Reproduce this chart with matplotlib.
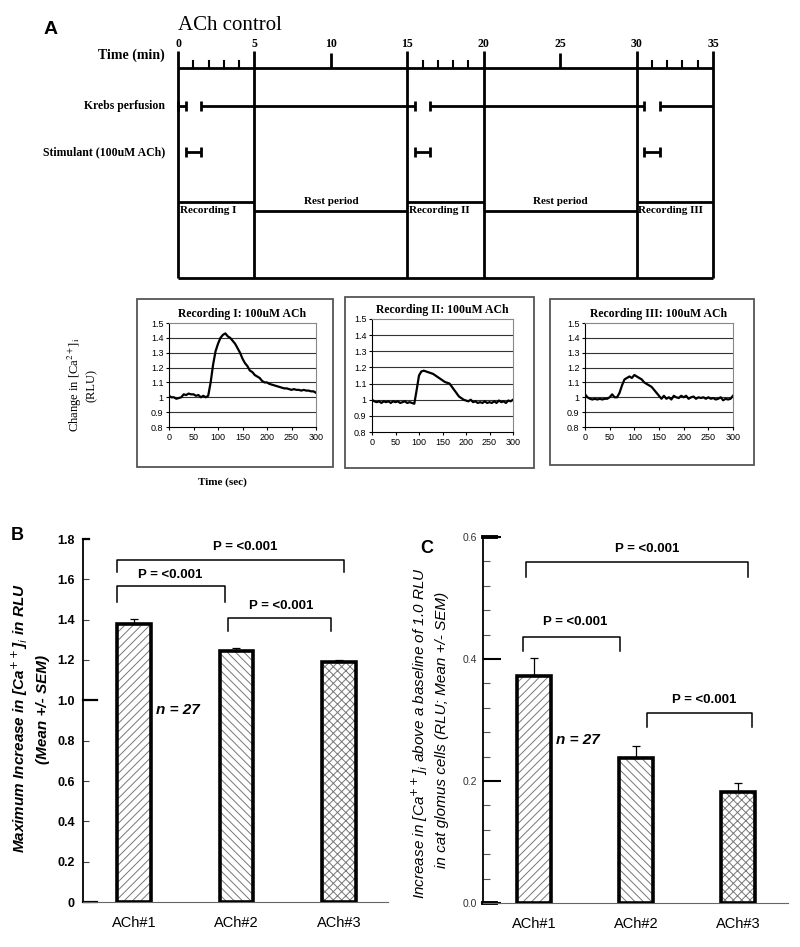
import matplotlib
matplotlib.use("Agg")
import matplotlib.pyplot as plt
import matplotlib.patches as patches

plt.rcParams['hatch.linewidth'] = 0.7
SERIF = 'Liberation Serif'
SANS = 'Liberation Sans'

# ---------------- data ----------------
time_major = [0, 5, 10, 15, 20, 25, 30, 35]
time_minor = [1, 2, 3, 4, 16, 17, 18, 19, 31, 32, 33, 34]
dividers = [0, 5, 15, 20, 30, 35]
krebs_segments = [(0, 0.5), (1.5, 15.5), (16.5, 30.5), (31.5, 35)]
stim_segments = [(0.5, 1.5), (15.5, 16.5), (30.5, 31.5)]
periods = [("Recording I", 0, 5), ("Rest period", 5, 15), ("Recording II", 15, 20),
           ("Rest period", 20, 30), ("Recording III", 30, 35)]

t_sec = list(range(0, 301, 5))
rec1 = [1.01, 1.00, 1.00, 0.99, 0.995, 1.00, 1.02, 1.015, 1.025, 1.02, 1.02, 1.01, 1.015,
        1.00, 1.01, 1.00, 1.01, 1.10, 1.22, 1.31, 1.36, 1.40, 1.42, 1.43, 1.41, 1.40, 1.38,
        1.36, 1.33, 1.30, 1.26, 1.23, 1.21, 1.18, 1.17, 1.15, 1.14, 1.13, 1.11, 1.10, 1.10,
        1.09, 1.085, 1.08, 1.075, 1.07, 1.065, 1.06, 1.06, 1.055, 1.05, 1.055, 1.05, 1.05,
        1.045, 1.05, 1.045, 1.045, 1.04, 1.04, 1.03]
rec2 = [1.00, 0.99, 0.985, 0.99, 0.98, 0.99, 0.985, 0.99, 0.98, 0.99, 0.985, 0.99, 0.98,
        0.985, 0.99, 0.98, 0.985, 0.98, 0.975, 1.06, 1.15, 1.175, 1.18, 1.175, 1.17, 1.165,
        1.16, 1.15, 1.14, 1.13, 1.12, 1.11, 1.105, 1.10, 1.08, 1.06, 1.04, 1.02, 1.01, 1.00,
        0.995, 0.99, 1.00, 0.985, 0.99, 0.98, 0.985, 0.98, 0.99, 0.98, 0.985, 0.98, 0.99,
        0.98, 0.995, 0.985, 0.99, 0.98, 0.995, 0.99, 1.00]
rec3 = [1.02, 1.00, 0.99, 0.985, 0.99, 0.985, 0.99, 0.985, 0.99, 0.99, 1.00, 1.02, 1.00,
        1.00, 1.03, 1.08, 1.12, 1.13, 1.14, 1.13, 1.15, 1.14, 1.13, 1.12, 1.10, 1.09, 1.08,
        1.07, 1.05, 1.03, 1.01, 0.99, 1.01, 0.99, 1.00, 0.985, 1.01, 1.00, 0.995, 1.01, 1.00,
        1.01, 0.99, 1.00, 1.005, 0.99, 1.00, 0.995, 1.00, 0.99, 1.00, 0.99, 0.995, 0.985,
        0.99, 1.00, 0.98, 0.99, 0.985, 0.99, 1.01]
rec_titles = ["Recording I: 100uM ACh", "Recording II: 100uM ACh", "Recording III: 100uM ACh"]
rec_yticks = [0.8, 0.9, 1.0, 1.1, 1.2, 1.3, 1.4, 1.5]
rec_ylabels = ["0.8", "0.9", "1", "1.1", "1.2", "1.3", "1.4", "1.5"]
rec_xticks = [0, 50, 100, 150, 200, 250, 300]

groups = ["ACh#1", "ACh#2", "ACh#3"]
hatches = ['////', '\\\\\\\\', 'xxxx']
b_mean = [1.38, 1.245, 1.19]
b_sem = [0.025, 0.015, 0.01]
c_mean = [0.372, 0.237, 0.182]
c_sem = [0.030, 0.020, 0.015]
p_text = "P = <0.001"
# brackets: (x0, x1, y_top, y_end)
b_brackets = [(0.835, 3.05, 1.697, 1.634), (0.835, 1.893, 1.566, 1.49), (1.913, 2.92, 1.41, 1.346)]
b_ptext = [(2.08, 1.76), (1.35, 1.62), (2.44, 1.47)]
c_brackets = [(0.92, 3.10, 0.559, 0.535), (0.89, 1.84, 0.436, 0.413), (2.11, 3.14, 0.312, 0.288)]
c_ptext = [(2.11, 0.581), (1.40, 0.461), (2.67, 0.333)]

W, H = 800, 947
fig = plt.figure(figsize=(W / 100, H / 100), dpi=100)


def px_axes(l, t, r, b):
    return fig.add_axes([l / W, 1 - b / H, (r - l) / W, (b - t) / H])


def ftext(x, y, s, **kw):
    fig.text(x / W, 1 - y / H, s, **kw)


# ---------------- panel A: timeline ----------------
tl = px_axes(178, 0, 713, 290)
tl.set_xlim(0, 35)
tl.set_ylim(290, 0)
tl.axis('off')
lk = dict(color='black', lw=2, solid_capstyle='butt', clip_on=False)
tl.plot([0, 35], [68, 68], **lk)
tl.plot([0, 35], [278, 278], **lk)
for d in dividers:
    tl.plot([d, d], [51, 278], **lk)
for m in time_major:
    if m not in dividers:
        tl.plot([m, m], [53, 68], **lk)
    tl.text(m, 44, str(m), ha='center', va='center', family=SERIF, weight='bold', fontsize=8.5)
for m in time_minor:
    tl.plot([m, m], [61, 68], color='black', lw=1.5, clip_on=False)
for y, segs in [(106, krebs_segments), (152, stim_segments)]:
    for a, b in segs:
        tl.plot([a, b], [y, y], **lk)
        tl.plot([a, a], [y - 5, y + 5], **lk)
        if b != 35:
            tl.plot([b, b], [y - 5, y + 5], **lk)
for name, a, b in periods:
    if name.startswith("Rest"):
        tl.plot([a, b], [211, 211], **lk)
        tl.text((a + b) / 2, 206, name, ha='center', va='bottom', family=SERIF,
                weight='bold', fontsize=8)
    else:
        tl.plot([a, b], [202, 202], **lk)
        tl.text(a + 0.1, 206, name, ha='left', va='top', family=SERIF,
                weight='bold', fontsize=8)
ftext(165, 55, "Time (min)", ha='right', va='center', family=SERIF, weight='bold', fontsize=10)
ftext(165, 106, "Krebs perfusion", ha='right', va='center', family=SERIF, weight='bold', fontsize=8.5)
ftext(165, 152, "Stimulant (100uM ACh)", ha='right', va='center', family=SERIF, weight='bold', fontsize=8.5)
ftext(178, 26, "ACh control", ha='left', va='center', family=SERIF, fontsize=15)
ftext(51, 30, "A", ha='center', va='center', family=SANS, weight='bold', fontsize=14)

# ---------------- panel A: recordings ----------------
boxes = [(137, 299, 333, 467), (345, 297, 534, 468), (550, 299, 754, 465)]
plots = [(169, 323, 316, 427), (372, 319, 513, 432), (585, 323, 733, 427)]
for (bl, bt, br, bb), (pl, pt, pr, pb), trace, title in zip(boxes, plots, [rec1, rec2, rec3], rec_titles):
    fig.patches.append(patches.Rectangle((bl / W, 1 - bb / H), (br - bl) / W, (bb - bt) / H,
                                         transform=fig.transFigure, fill=False,
                                         edgecolor='#555555', lw=1.3))
    ax = px_axes(pl, pt, pr, pb)
    ax.plot(t_sec, trace, color='black', lw=1.6)
    ax.set_xlim(0, 300)
    ax.set_ylim(0.8, 1.5)
    ax.set_yticks(rec_yticks)
    ax.set_yticklabels(rec_ylabels)
    ax.set_xticks(rec_xticks)
    for y in rec_yticks[1:-1]:
        ax.axhline(y, color='#333333', lw=0.8, zorder=0)
    ax.tick_params(labelsize=6.5, length=2, width=0.8, pad=2)
    for s in ['top', 'right']:
        ax.spines[s].set_color('#888888')
        ax.spines[s].set_linewidth(0.8)
    for lab in ax.get_xticklabels() + ax.get_yticklabels():
        lab.set_family(SANS)
    ax.set_title(title, family=SERIF, weight='bold', fontsize=8.5, pad=4)
ftext(75, 385, "Change in [Ca$^{2+}$]$_{\\rm i}$", rotation=90, ha='center', va='center',
      family=SERIF, fontsize=9, math_fontfamily='stix')
ftext(92, 385, "(RLU)", rotation=90, ha='center', va='center', family=SERIF, fontsize=9)
ftext(222, 482, "Time (sec)", ha='center', va='center', family=SERIF, weight='bold', fontsize=8)


# ---------------- panels B and C ----------------
def bar_panel(ax, means, sems, brackets, ptexts, ntext, ylim, yticks, ylabels, tsize, bold):
    x = [1, 2, 3]
    for xi, m, h in zip(x, means, hatches):
        ax.bar([xi], [m], 0.33, color='white', edgecolor='#777777', hatch=h, lw=0, zorder=2)
    ax.bar(x, means, 0.33, fill=False, edgecolor='black', lw=2.6, zorder=3)
    ax.errorbar(x, means, yerr=[[0, 0, 0], sems], fmt='none', ecolor='black',
                elinewidth=0.9, capsize=3, capthick=0.9, zorder=4)
    for x0, x1, yt, ye in brackets:
        ax.plot([x0, x0, x1, x1], [ye, yt, yt, ye], color='black', lw=1.1, clip_on=False)
    for px, py in ptexts:
        ax.text(px, py, p_text, ha='center', va='center', family=SANS, weight='bold', fontsize=9.5)
    ax.text(ntext[0], ntext[1], "n = 27", ha='center', va='center', family=SANS,
            weight='bold', style='italic', fontsize=11)
    ax.set_ylim(*ylim)
    ax.set_yticks(yticks)
    ax.set_yticklabels(ylabels)
    ax.set_xticks(x)
    ax.set_xticklabels(groups)
    for s in ['top', 'right']:
        ax.spines[s].set_visible(False)
    ax.spines['bottom'].set_color('#666666')
    ax.spines['left'].set_linewidth(1.3)
    ax.tick_params(axis='x', length=0, pad=10, labelsize=10.5)
    ax.tick_params(axis='y', direction='in', labelsize=tsize, pad=6)
    for lab in ax.get_xticklabels():
        lab.set_family(SANS)
    for lab in ax.get_yticklabels():
        lab.set_family(SANS)
        if bold:
            lab.set_weight('bold')


axb = px_axes(83, 539, 388, 902)
axb.set_xlim(0.505, 3.476)
bar_panel(axb, b_mean, b_sem, b_brackets, b_ptext, (1.43, 0.95), (0, 1.8),
          [0, 0.2, 0.4, 0.6, 0.8, 1.0, 1.2, 1.4, 1.6, 1.8],
          ["0", "0.2", "0.4", "0.6", "0.8", "1.0", "1.2", "1.4", "1.6", "1.8"], 9, True)
axb.tick_params(axis='y', length=4, width=0.8, color='#444444')
for yv, ln in [(0.0, 0.64), (1.0, 0.64), (1.8, 0.56)]:
    axb.plot([0.505, ln], [yv, yv], color='black', lw=1.6, clip_on=False)
ftext(20, 718, "Maximum Increase in [Ca$^{++}$]$_i$ in RLU", rotation=90, ha='center', va='center',
      family=SANS, weight='bold', style='italic', fontsize=11, math_fontfamily='dejavusans')
ftext(43, 709, "(Mean +/- SEM)", rotation=90, ha='center', va='center',
      family=SANS, weight='bold', style='italic', fontsize=11)
ftext(17, 535, "B", ha='center', va='center', family=SANS, weight='bold', fontsize=13)

axc = px_axes(483, 537, 788, 903)
axc.set_xlim(0.5, 3.49)
bar_panel(axc, c_mean, c_sem, c_brackets, c_ptext, (1.43, 0.267), (0, 0.6),
          [0.0, 0.2, 0.4, 0.6], ["0.0", "0.2", "0.4", "0.6"], 7.5, False)
axc.set_yticks([0.04, 0.08, 0.12, 0.16, 0.24, 0.28, 0.32, 0.36, 0.44, 0.48, 0.52, 0.56], minor=True)
axc.tick_params(axis='y', which='major', length=13, width=1.5, pad=4, labelcolor='#333333')
axc.tick_params(axis='y', which='minor', direction='in', length=5, width=0.8, color='#555555')
for yv in [0.0, 0.6]:
    axc.plot([0.5, 0.63], [yv, yv], color='black', lw=2.8, clip_on=False)
ftext(420, 733, "Increase in [Ca$^{++}$]$_i$ above a baseline of 1.0 RLU", rotation=90,
      ha='center', va='center', family=SANS, style='italic', fontsize=11,
      math_fontfamily='dejavusans')
ftext(442, 730, "in cat glomus cells (RLU; Mean +/- SEM)", rotation=90,
      ha='center', va='center', family=SANS, style='italic', fontsize=11)
ftext(427, 548, "C", ha='center', va='center', family=SANS, weight='bold', fontsize=13)

fig.savefig("out.png", dpi=100)
